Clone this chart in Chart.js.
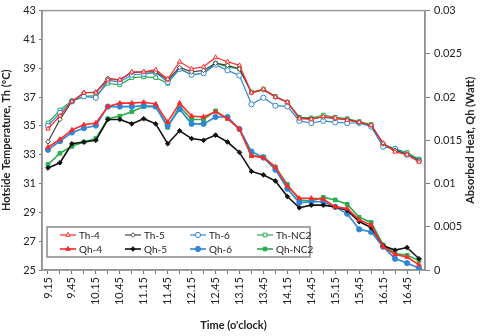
<!DOCTYPE html>
<html>
<head>
<meta charset="utf-8">
<script src="https://cdn.jsdelivr.net/npm/chart.js@4/dist/chart.umd.min.js"></script>
<style>
  html, body { margin: 0; padding: 0; background: #fff; }
  #wrap { width: 480px; height: 336px; }
</style>
</head>
<body>
<div id="wrap"><canvas id="chart" width="480" height="336"></canvas></div>
<script>
// horas (cada 15 min), solo se rotulan las pares
const times = ['9.15','9.30','9.45','10.00','10.15','10.30','10.45','11.00','11.15','11.30','11.45','12.00',
    '12.15','12.30','12.45','13.00','13.15','13.30','13.45','14.00','14.15','14.30','14.45','15.00',
    '15.15','15.30','15.45','16.00','16.15','16.30','16.45','17.00'];

// temperatura lado caliente (ºC)
const th4 = [34.8,35.7,36.7,37.3,37.3,38.2,38.2,38.75,38.75,38.9,38.25,39.45,38.95,39.1,39.75,39.45,
    39.2,37.3,37.55,37.0,36.65,35.5,35.45,35.65,35.55,35.4,35.25,35.05,33.8,33.2,33.0,32.5];
const th5 = [33.9,35.45,36.7,37.3,37.35,38.3,38.2,38.7,38.75,38.75,38.2,39.05,38.75,38.85,39.35,39.2,
    38.95,37.3,37.5,37.0,36.65,35.55,35.5,35.6,35.5,35.45,35.25,35.05,33.75,33.3,33.05,32.6];
const th6 = [35.0,35.9,36.7,37.05,36.95,38.15,38.05,38.55,38.6,38.7,38.05,38.95,38.55,38.65,39.25,38.85,
    38.5,36.5,36.95,36.4,36.35,35.35,35.2,35.35,35.25,35.2,35.2,34.95,33.55,33.4,33.0,32.6];
const thNC2 = [35.2,36.1,36.75,37.05,37.1,37.95,37.85,38.35,38.4,38.35,37.95,38.95,38.55,38.65,39.35,39.1,
    38.95,37.35,37.55,37.05,36.65,35.6,35.55,35.75,35.6,35.5,35.3,35.1,33.75,33.4,33.15,32.7];

// calor absorbido (W)
const qh4 = [0.0142,0.0151,0.0162,0.0168,0.0170,0.0189,0.0193,0.0193,0.0194,0.0192,0.0171,0.0193,0.0178,0.0177,0.0183,0.0175,
    0.0163,0.0132,0.0130,0.0119,0.0097,0.0083,0.0083,0.0082,0.0073,0.0071,0.0058,0.0052,0.0027,0.0018,0.0015,0.0006];
const qh5 = [0.0118,0.0124,0.0146,0.0148,0.0150,0.0174,0.0174,0.0169,0.0175,0.0169,0.0146,0.0161,0.0152,0.0150,0.0156,0.0148,
    0.0136,0.0114,0.0110,0.0103,0.0085,0.0072,0.0075,0.0075,0.0073,0.0069,0.0056,0.0049,0.0028,0.0023,0.0026,0.0013];
const qh6 = [0.0139,0.0149,0.0159,0.0164,0.0167,0.0189,0.0189,0.0189,0.0190,0.0189,0.0167,0.0186,0.0169,0.0169,0.0177,0.0177,
    0.0163,0.0137,0.0130,0.0116,0.0094,0.0078,0.0079,0.0079,0.0073,0.0065,0.0047,0.0044,0.0027,0.0013,0.0008,0.0002];
const qhNC2 = [0.0122,0.0135,0.0143,0.0148,0.0152,0.0175,0.0178,0.0183,0.0189,0.0189,0.0165,0.0189,0.0174,0.0174,0.0184,0.0175,
    0.0163,0.0132,0.0131,0.0119,0.0099,0.0081,0.0080,0.0084,0.0081,0.0076,0.0061,0.0055,0.0029,0.0019,0.0017,0.0011];

const RED = '#ff2a2a';
const BLACK = '#111111';
const BLUE = '#2f86d6';
const GREEN = '#27ad4f';
const FONT = 'Lato, "Open Sans", sans-serif';

function serie(label, data, color, style, filled, axis) {
    return {
        label,
        data,
        yAxisID: axis,
        borderColor: color,
        backgroundColor: filled ? color : '#ffffff',
        pointBackgroundColor: filled ? color : '#ffffff',
        pointBorderColor: color,
        pointStyle: style,
        pointRadius: style === 'rectRot' ? 2.3 : 2.6,
        pointBorderWidth: 1,
        borderWidth: filled ? 1.6 : 1.2,
        tension: 0,
        fill: false
    };
}

const datasets = [
    serie('Th-4', th4, RED, 'triangle', false, 'y'),
    serie('Th-5', th5, '#444444', 'rectRot', false, 'y'),
    serie('Th-6', th6, BLUE, 'circle', false, 'y'),
    serie('Th-NC2', thNC2, GREEN, 'rect', false, 'y'),
    serie('Qh-4', qh4, RED, 'triangle', true, 'y1'),
    serie('Qh-5', qh5, BLACK, 'rectRot', true, 'y1'),
    serie('Qh-6', qh6, BLUE, 'circle', true, 'y1'),
    serie('Qh-NC2', qhNC2, GREEN, 'rect', true, 'y1')
];

// leyenda dibujada dentro del área, 2 filas x 4 columnas
const legendBox = {
    id: 'legendBox',
    afterDraw(chart) {
        const ctx = chart.ctx;
        const x0 = 47, y0 = 227, w = 263, h = 30;
        ctx.save();
        ctx.fillStyle = '#ffffff';
        ctx.fillRect(x0, y0, w, h);
        ctx.strokeStyle = '#8a8a8a';
        ctx.lineWidth = 1.5;
        ctx.strokeRect(x0, y0, w, h);
        const cols = [60, 125, 190, 257];
        const rows = [235, 249];
        ctx.font = '10px ' + FONT;
        ctx.textBaseline = 'middle';
        chart.data.datasets.forEach((ds, i) => {
            const cx = cols[i % 4];
            const cy = rows[Math.floor(i / 4)];
            ctx.strokeStyle = ds.borderColor;
            ctx.lineWidth = ds.borderWidth;
            ctx.beginPath();
            ctx.moveTo(cx, cy);
            ctx.lineTo(cx + 16, cy);
            ctx.stroke();
            ctx.fillStyle = ds.pointBackgroundColor;
            ctx.strokeStyle = ds.pointBorderColor;
            ctx.lineWidth = 1;
            Chart.helpers.drawPoint(ctx, { pointStyle: ds.pointStyle, radius: ds.pointRadius, borderWidth: 1, rotation: 0 }, cx + 8, cy);
            ctx.fillStyle = '#222';
            ctx.fillText(ds.label, cx + 19, cy + 0.5);
        });
        ctx.restore();
    }
};

// marco gris del área de trazado + título derecho leído de abajo hacia arriba
const plotFrame = {
    id: 'plotFrame',
    beforeDatasetsDraw(chart) {
        const a = chart.chartArea;
        const ctx = chart.ctx;
        ctx.save();
        ctx.strokeStyle = '#9a9a9a';
        ctx.lineWidth = 1.5;
        ctx.strokeRect(a.left, a.top, a.right - a.left, a.bottom - a.top);
        ctx.translate(470, (a.top + a.bottom) / 2);
        ctx.rotate(-Math.PI / 2);
        ctx.fillStyle = '#222';
        ctx.font = 'bold 11px ' + FONT;
        ctx.textAlign = 'center';
        ctx.textBaseline = 'middle';
        ctx.fillText('Absorbed Heat, Qh (Watt)', 0, 0);
        ctx.restore();
    }
};

const tickFont = { family: FONT, size: 11 };
const titleFont = { family: FONT, size: 11, weight: 'bold' };

new Chart(document.getElementById('chart'), {
    type: 'line',
    data: { labels: times, datasets },
    options: {
        responsive: false,
        animation: false,
        layout: { padding: { top: 6, left: 0, right: 0, bottom: 0 } },
        plugins: { legend: { display: false }, tooltip: { enabled: false } },
        scales: {
            x: {
                offset: true,
                grid: { display: true, drawOnChartArea: false, tickLength: 4, color: '#777' },
                border: { color: '#777', width: 1.5 },
                ticks: {
                    autoSkip: false, maxRotation: 90, minRotation: 90, color: '#222', font: tickFont,
                    callback: (v, i) => (i % 2 === 0 ? times[i] : '')
                },
                title: { display: true, text: "Time (o'clock)", color: '#222', font: titleFont, padding: { top: 10 } },
                afterFit: s => { s.height = 66; }
            },
            y: {
                position: 'left',
                min: 25, max: 43,
                ticks: { stepSize: 2, color: '#222', font: tickFont, padding: 3 },
                grid: { display: true, drawOnChartArea: false, tickLength: 3, color: '#777' },
                border: { color: '#777', width: 1.5 },
                title: { display: true, text: 'Hotside Temperature, Th (ºC)', color: '#222', font: titleFont, padding: 0 },
                afterFit: s => { s.width = 42; }
            },
            y1: {
                position: 'right',
                min: 0, max: 0.03,
                ticks: { stepSize: 0.005, color: '#222', font: tickFont, padding: 4, callback: v => String(+v.toFixed(3)) },
                grid: { display: true, drawOnChartArea: false, tickLength: 5, color: '#777' },
                border: { color: '#777', width: 1.5 },
                title: { display: false },
                afterFit: s => { s.width = 55; }
            }
        }
    },
    plugins: [plotFrame, legendBox]
});
</script>
</body>
</html>
